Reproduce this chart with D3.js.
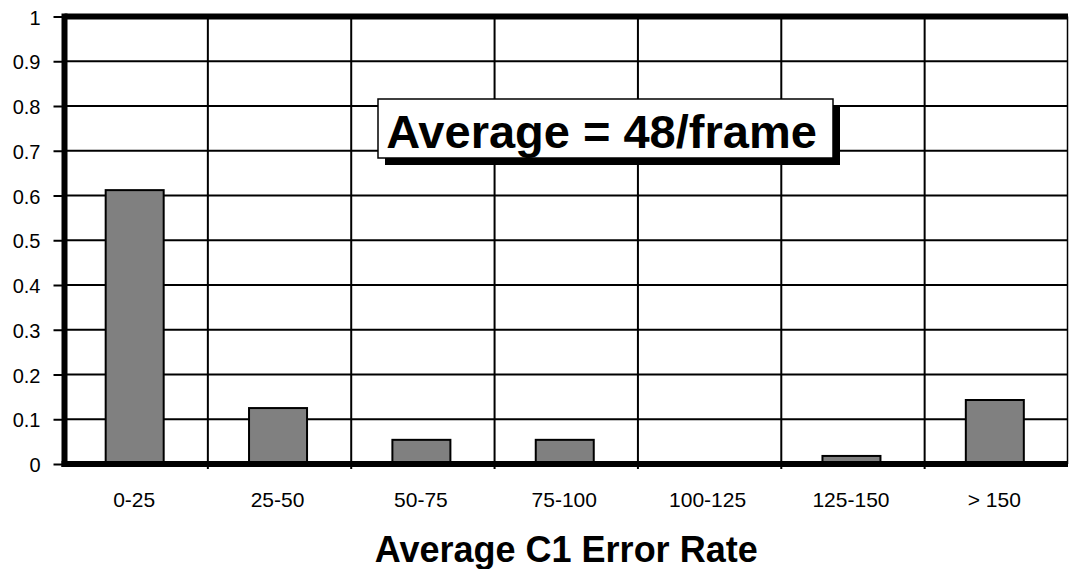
<!DOCTYPE html>
<html>
<head>
<meta charset="utf-8">
<script src="https://cdn.jsdelivr.net/npm/d3@7"></script>
<style>
  body { margin: 0; background: #fff; }
  text { font-family: "Liberation Sans", Arial, sans-serif; fill: #000; }
</style>
</head>
<body>
<div id="chart"></div>
<script>
const categories = ["0-25", "25-50", "50-75", "75-100", "100-125", "125-150", "> 150"];
const values = [0.612, 0.125, 0.054, 0.054, 0, 0.018, 0.143];
const yTicks = [0, 0.1, 0.2, 0.3, 0.4, 0.5, 0.6, 0.7, 0.8, 0.9, 1];
const xTitle = "Average C1 Error Rate";
const note = "Average = 48/frame";

const width = 1069, height = 569;
const plotLeft = 64.5, plotRight = 1068, plotTop = 16.5, plotBottom = 464;

const svg = d3.select("#chart").append("svg")
    .attr("width", width)
    .attr("height", height);

const x = d3.scaleBand()
    .domain(categories)
    .range([plotLeft, plotRight])
    .paddingInner(0)
    .paddingOuter(0);

const y = d3.scaleLinear()
    .domain([0, 1])
    .range([plotBottom, plotTop]);

// horizontal grid
svg.append("g")
    .selectAll("line")
    .data(yTicks.slice(1, -1))
    .join("line")
    .attr("x1", plotLeft).attr("x2", plotRight)
    .attr("y1", d => y(d)).attr("y2", d => y(d))
    .attr("stroke", "#000").attr("stroke-width", 2);

// vertical grid at band edges
svg.append("g")
    .selectAll("line")
    .data(categories.slice(1))
    .join("line")
    .attr("x1", d => x(d)).attr("x2", d => x(d))
    .attr("y1", plotTop).attr("y2", plotBottom + 5)
    .attr("stroke", "#000").attr("stroke-width", 2);

// right border
svg.append("line")
    .attr("x1", plotRight - 0.5).attr("x2", plotRight - 0.5)
    .attr("y1", plotTop).attr("y2", plotBottom)
    .attr("stroke", "#000").attr("stroke-width", 1.5);

// top border (thick)
svg.append("line")
    .attr("x1", plotLeft).attr("x2", plotRight)
    .attr("y1", y(1)).attr("y2", y(1))
    .attr("stroke", "#000").attr("stroke-width", 6);

// bars
const barW = 58;
svg.append("g")
    .selectAll("rect")
    .data(categories.map((c, i) => ({c, v: values[i]})).filter(d => d.v > 0))
    .join("rect")
    .attr("x", d => x(d.c) + x.bandwidth() / 2 - barW / 2 - 1.5)
    .attr("y", d => y(d.v))
    .attr("width", barW)
    .attr("height", d => y(0) - y(d.v))
    .attr("fill", "#808080")
    .attr("stroke", "#000")
    .attr("stroke-width", 2);

// y axis
const yAxis = svg.append("g")
    .attr("transform", `translate(${plotLeft},0)`)
    .call(d3.axisLeft(y).tickValues(yTicks).tickSize(11).tickPadding(13)
        .tickFormat(d => d3.format("")(+d.toFixed(1))));
yAxis.select(".domain").remove();
yAxis.selectAll(".tick line").attr("stroke", "#000").attr("stroke-width", 2);
yAxis.selectAll(".tick text")
    .attr("font-size", 20)
    .attr("font-family", "Liberation Sans, Arial, sans-serif")
    .attr("dy", "0.38em");

// thick left axis and bottom axis
svg.append("line")
    .attr("x1", plotLeft).attr("x2", plotLeft)
    .attr("y1", plotTop - 3).attr("y2", plotBottom + 3)
    .attr("stroke", "#000").attr("stroke-width", 6);
svg.append("line")
    .attr("x1", plotLeft - 3).attr("x2", plotRight)
    .attr("y1", plotBottom).attr("y2", plotBottom)
    .attr("stroke", "#000").attr("stroke-width", 6);

// x labels
const xAxis = svg.append("g")
    .attr("transform", `translate(0,${plotBottom})`)
    .call(d3.axisBottom(x).tickSize(0));
xAxis.select(".domain").remove();
xAxis.selectAll(".tick text")
    .attr("font-size", 21)
    .attr("font-family", "Liberation Sans, Arial, sans-serif")
    .attr("x", -2)
    .attr("y", 43)
    .attr("dy", 0);

// axis title
svg.append("text")
    .attr("x", (plotLeft + plotRight) / 2)
    .attr("y", 562)
    .attr("text-anchor", "middle")
    .attr("font-size", 36)
    .attr("font-weight", "bold")
    .text(xTitle);

// annotation box with shadow
const bx = 378, by = 99, bw = 455, bh = 59;
svg.append("rect")
    .attr("x", bx + 7).attr("y", by + 7)
    .attr("width", bw).attr("height", bh)
    .attr("fill", "#000");
svg.append("rect")
    .attr("x", bx).attr("y", by)
    .attr("width", bw).attr("height", bh)
    .attr("fill", "#fff").attr("stroke", "#000").attr("stroke-width", 1.5);
svg.append("text")
    .attr("x", bx + bw / 2 - 4)
    .attr("y", by + 49)
    .attr("text-anchor", "middle")
    .attr("font-size", 47)
    .attr("font-weight", "bold")
    .text(note);
</script>
</body>
</html>
